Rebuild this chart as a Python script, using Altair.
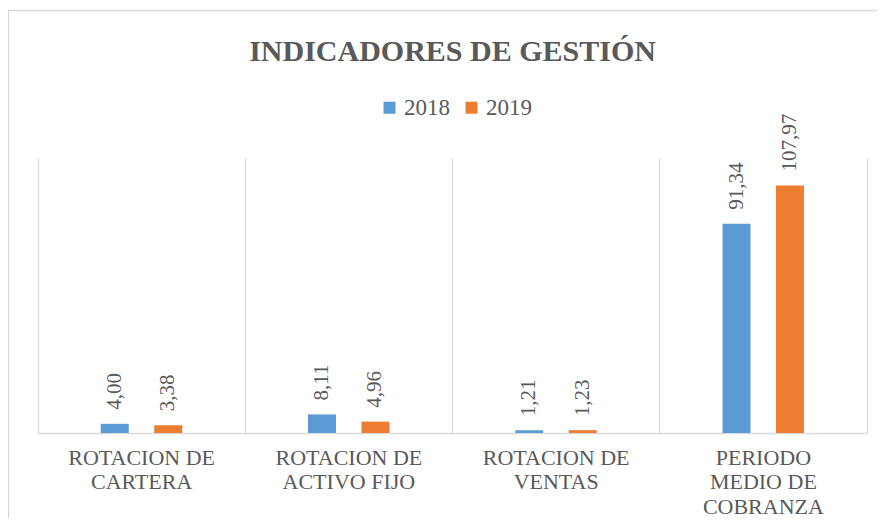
import altair as alt
import pandas as pd

# ---- data ----
categories = [
    "ROTACION DE|CARTERA",
    "ROTACION DE|ACTIVO FIJO",
    "ROTACION DE|VENTAS",
    "PERIODO|MEDIO DE|COBRANZA",
]
years = ["2018", "2019"]
values_2018 = [4.00, 8.11, 1.21, 91.34]
values_2019 = [3.38, 4.96, 1.23, 107.97]
colors = ["#5b9bd5", "#ed7d31"]
title_text = "INDICADORES DE GESTIÓN"

rows = []
for c, v in zip(categories, values_2018):
    rows.append({"categoria": c, "anio": "2018", "valor": v})
for c, v in zip(categories, values_2019):
    rows.append({"categoria": c, "anio": "2019", "valor": v})
df = pd.DataFrame(rows)

GRAY = "#595959"
LINE = "#d9d9d9"
FONT = "'Liberation Serif', 'Times New Roman', serif"

W, H = 829, 275

base = alt.Chart(df).transform_calculate(
    etiqueta="replace(format(datum.valor, '.2f'), '.', ',')"
).encode(
    x=alt.X(
        "categoria:N",
        sort=categories,
        scale=alt.Scale(paddingInner=0, paddingOuter=0),
        axis=alt.Axis(
            title=None,
            labelExpr="split(datum.label, '|')",
            labelAngle=0,
            labelFont=FONT,
            labelFontSize=22,
            labelColor=GRAY,
            labelLineHeight=24.5,
            labelPadding=14,
            labelLimit=0,
            ticks=False,
            grid=True,
            gridColor=LINE,
            gridWidth=1.3,
            bandPosition=0,
            domainColor=LINE,
            domainWidth=1.3,
        ),
    ),
    xOffset=alt.XOffset(
        "anio:N",
        sort=years,
        scale=alt.Scale(range=[62.75, 144.25], paddingInner=0.4766, paddingOuter=0),
    ),
    y=alt.Y(
        "valor:Q",
        scale=alt.Scale(domain=[0, 120]),
        axis=alt.Axis(
            orient="right",
            title=None,
            labels=False,
            ticks=False,
            grid=False,
            domainColor=LINE,
            domainWidth=1.3,
        ),
    ),
)

bars = base.mark_bar().encode(
    color=alt.Color(
        "anio:N",
        sort=years,
        scale=alt.Scale(domain=years, range=colors),
        legend=alt.Legend(
            title=None,
            orient="none",
            legendX=340,
            legendY=-62,
            direction="horizontal",
            columns=2,
            symbolType="square",
            symbolSize=144,
            symbolStrokeWidth=0,
            labelFont=FONT,
            labelFontSize=23,
            labelColor=GRAY,
            labelOffset=3,
            columnPadding=10,
            padding=0,
        ),
    )
)

labels = base.mark_text(
    angle=270,
    align="left",
    baseline="middle",
    dx=14,
    font=FONT,
    fontSize=21,
    color=GRAY,
).encode(text="etiqueta:N")

border = alt.Chart(pd.DataFrame({"b": [0]})).mark_rect(
    filled=False, stroke=LINE, strokeWidth=1.3
).encode(
    x=alt.value(-29.5),
    x2=alt.value(900),
    y=alt.value(-147.5),
    y2=alt.value(600),
)

chart = alt.layer(border, bars, labels).properties(
    width=W,
    height=H,
    autosize="none",
    padding={"left": 30, "top": 150, "right": 10, "bottom": 85},
    title=alt.TitleParams(
        title_text,
        font=FONT,
        fontSize=30,
        fontWeight="bold",
        color=GRAY,
        anchor="middle",
        frame="group",
        offset=0,
        dy=57,
    ),
).configure_view(stroke=None)

chart.save("out.html", embed_options={"renderer": "svg", "actions": False})
